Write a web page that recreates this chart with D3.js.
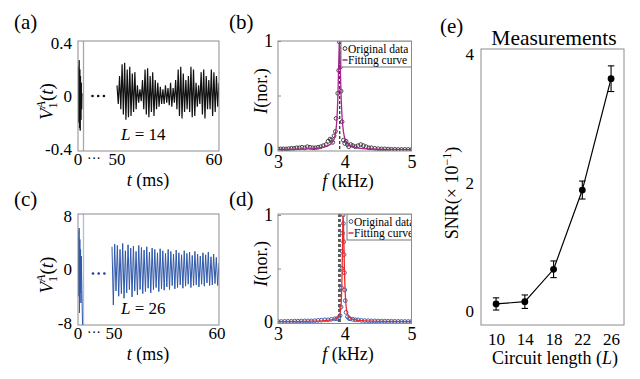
<!DOCTYPE html>
<html><head><meta charset="utf-8">
<script src="https://cdn.jsdelivr.net/npm/d3@7"></script>
<style>
body{margin:0;background:#fff;}
svg{display:block;}
svg text{font-family:'Liberation Serif','DejaVu Serif',serif !important;}
</style>
</head><body>
<svg id="chart" width="640" height="379"></svg>
<script>
// ---------------- DATA ----------------
// (a) L = 14 waveform: early burst (t in ms) and 50-60 ms segment (half-cycle extremes)
const aEarlyT = [0, 0.04, 0.08, 0.12, 0.16, 0.2, 0.24, 0.28, 0.32, 0.36, 0.4, 0.44];
const aEarlyV = [0, 0.22, -0.2, 0.27, -0.24, 0.2, -0.26, 0.15, -0.18, 0.1, -0.1, 0.02];
const aLateStart = 50, aLateStep = 0.125;
const aLateV = [
  0.08,-0.06,0.15,-0.10,0.24,-0.14,0.25,-0.18,
  0.20,-0.16,0.22,-0.15,0.17,-0.12,0.18,-0.10,
  0.08,-0.05,0.05,-0.04,0.12,-0.10,0.20,-0.14,
  0.21,-0.16,0.15,-0.12,0.18,-0.15,0.12,-0.10,
  0.10,-0.08,0.07,-0.06,0.05,-0.06,0.08,-0.05,
  0.06,-0.07,0.10,-0.08,0.06,-0.05,0.12,-0.10,
  0.20,-0.15,0.22,-0.17,0.17,-0.12,0.12,-0.10,
  0.15,-0.12,0.22,-0.16,0.20,-0.15,0.10,-0.08,
  0.08,-0.06,0.18,-0.14,0.20,-0.17,0.15,-0.10,
  0.12,-0.10,0.20,-0.15,0.18,-0.12,0.15,-0.08, 0.10];

// (c) L = 26 waveform
const cEarlyT = [0, 0.04, 0.08, 0.12, 0.16, 0.2, 0.24, 0.28, 0.32, 0.36, 0.42, 0.5];
const cEarlyV = [0, 5.8, -4.0, 6.2, -6.5, 4.5, -3.5, 3.0, -5.0, 2.0, -3.0, -8.6];
const cLateStart = 50, cLateStep = 0.125;
const cLateV = [
  3.4,-5.3,3.8,-3.2,3.6,-4.0,3.0,-3.6,
  3.9,-4.3,2.8,-3.5,3.7,-3.0,3.2,-4.1,
  3.5,-3.2,2.7,-3.8,3.6,-3.0,3.3,-3.6,
  2.9,-3.3,3.4,-2.8,2.6,-3.5,3.2,-3.0,
  3.0,-2.7,2.5,-3.3,3.1,-2.9,2.8,-3.1,
  2.4,-2.6,3.0,-3.0,2.7,-2.4,2.3,-2.9,
  2.9,-2.7,2.5,-2.3,2.2,-2.8,2.8,-2.5,
  2.4,-2.2,2.6,-2.7,2.1,-2.4,2.7,-2.3,
  2.3,-2.6,2.0,-2.2,2.5,-2.5,2.2,-2.0,
  2.6,-2.4,1.9,-2.3,2.3,-2.1,1.8,-2.4, 1.0];

// (b) spectrum L = 14
const bF = [3.00,3.04,3.08,3.12,3.16,3.20,3.24,3.28,3.32,3.36,3.40,3.44,3.48,3.52,3.56,3.60,3.64,3.68,3.72,3.75,3.78,3.80,3.82,3.84,3.86,3.87,3.895,3.91,3.92,3.935,3.945,3.96,3.98,4.00,4.02,4.04,4.06,4.09,4.12,4.16,4.20,4.24,4.28,4.32,4.36,4.40,4.45,4.50,4.55,4.60,4.65,4.70,4.75,4.80,4.85,4.90,4.95,5.00];
const bI = [0.010,0.010,0.010,0.010,0.012,0.015,0.015,0.020,0.020,0.025,0.020,0.030,0.025,0.020,0.020,0.025,0.030,0.040,0.050,0.080,0.100,0.090,0.070,0.130,0.170,0.290,0.520,0.730,0.990,0.760,0.540,0.260,0.090,0.060,0.080,0.050,0.030,0.050,0.040,0.030,0.040,0.050,0.040,0.030,0.020,0.020,0.015,0.012,0.010,0.010,0.008,0.006,0.006,0.005,0.005,0.005,0.005,0.005];
const bFitF = [3.0,3.3,3.5,3.6,3.7,3.75,3.8,3.84,3.86,3.88,3.895,3.905,3.915,3.92,3.925,3.935,3.945,3.96,3.98,4.0,4.05,4.1,4.2,4.4,4.7,5.0];
const bFitI = [0.005,0.008,0.012,0.017,0.028,0.04,0.06,0.10,0.15,0.26,0.45,0.68,0.92,1.0,0.93,0.72,0.50,0.30,0.17,0.11,0.055,0.035,0.018,0.009,0.005,0.003];
const bRef = [3.925];

// (d) spectrum L = 26
const dF = [3.00,3.05,3.10,3.15,3.20,3.25,3.30,3.35,3.40,3.45,3.50,3.55,3.60,3.65,3.70,3.75,3.80,3.85,3.88,3.91,3.93,3.945,3.952,3.958,3.962,3.967,3.975,3.98,3.985,3.99,3.995,4.00,4.008,4.02,4.04,4.06,4.08,4.12,4.16,4.20,4.25,4.30,4.35,4.40,4.45,4.50,4.55,4.60,4.65,4.70,4.75,4.80,4.85,4.90,4.95,5.00];
const dI = [0.005,0.005,0.006,0.006,0.007,0.008,0.008,0.009,0.010,0.010,0.010,0.012,0.015,0.017,0.020,0.020,0.025,0.030,0.030,0.040,0.060,0.140,0.320,0.500,0.660,0.830,1.000,0.920,0.750,0.630,0.460,0.300,0.200,0.090,0.050,0.035,0.030,0.025,0.020,0.020,0.015,0.013,0.012,0.010,0.010,0.009,0.008,0.008,0.007,0.007,0.006,0.006,0.005,0.005,0.005,0.005];
const dFitF = [3.0,3.5,3.7,3.8,3.88,3.92,3.94,3.95,3.96,3.967,3.972,3.975,3.98,3.987,3.995,4.005,4.02,4.04,4.07,4.12,4.3,4.6,5.0];
const dFitI = [0.004,0.008,0.013,0.02,0.035,0.06,0.12,0.22,0.45,0.75,0.95,1.0,0.93,0.75,0.50,0.30,0.15,0.08,0.045,0.025,0.01,0.006,0.004];
const dRef = [3.912, 3.93];

// (e) SNR measurements
const eL = [10, 14, 18, 22, 26];
const eSNR = [0.11, 0.145, 0.65, 1.885, 3.62];
const eErr = [0.095, 0.105, 0.13, 0.14, 0.20];
const eXTicks = [10, 14, 18, 22, 26];
const eYTicks = [0, 2, 4];

// ---------------- DRAW ----------------
const svg = d3.select("#chart");
const FRAME = "#8c8c8c";
const SERIF = "'Liberation Serif','DejaVu Serif',serif";

function frame(g, x0, x1, y0, y1) {
  g.append("rect").attr("x", x0).attr("y", y0).attr("width", x1 - x0).attr("height", y1 - y0)
    .attr("fill", "none").attr("stroke", FRAME).attr("stroke-width", 1);
}
function clip(id, x0, x1, y0, y1) {
  svg.append("clipPath").attr("id", id).append("rect")
    .attr("x", x0).attr("y", y0).attr("width", x1 - x0).attr("height", y1 - y0);
  return "url(#" + id + ")";
}
function styleAxis(g, size) {
  g.attr("font-family", SERIF);
  g.select(".domain").remove();
  g.selectAll(".tick line").attr("stroke", FRAME);
  g.selectAll(".tick text").attr("font-size", size).attr("fill", "#000");
}
function panelLabel(txt, x, y) {
  svg.append("text").attr("x", x).attr("y", y).attr("font-size", 21).text(txt);
}

// ---- waveform panels (a) and (c) ----
function wavePanel(o) {
  const g = svg.append("g");
  const y = d3.scaleLinear().domain(o.yDom).range([o.y1, o.y0]);
  const xe = d3.scaleLinear().domain([0, 0.6]).range([o.x0, o.x0 + 5.5]);
  const xl = d3.scaleLinear().domain([50, 60]).range([o.lateX, o.x1]);
  const cp = clip(o.id, o.x0, o.x1, o.y0, o.y1);
  g.append("line").attr("x1", xe(0.6)).attr("x2", xe(0.6)).attr("y1", o.y0).attr("y2", o.y1)
    .attr("stroke", o.lightColor).attr("stroke-width", 1.3);
  const early = o.earlyT.map((t, i) => [t, o.earlyV[i]]);
  g.append("path").datum(early).attr("clip-path", cp)
    .attr("d", d3.line().x(d => xe(d[0])).y(d => y(d[1])))
    .attr("fill", "none").attr("stroke", o.color).attr("stroke-width", 1);
  const late = o.lateV.map((v, i) => [o.lateStart + i * o.lateStep, v]);
  g.append("path").datum(late).attr("clip-path", cp)
    .attr("d", d3.line().x(d => xl(d[0])).y(d => y(d[1])))
    .attr("fill", "none").attr("stroke", o.color).attr("stroke-width", o.lw);
  [0, 1, 2].forEach(k => g.append("circle").attr("cx", o.dotX + k * 5.7).attr("cy", y(0) + o.dotDy)
    .attr("r", 1.3).attr("fill", o.dotColor));
  frame(g, o.x0, o.x1, o.y0, o.y1);
  const ya = g.append("g").attr("transform", `translate(${o.x0},0)`)
    .call(d3.axisLeft(y).tickValues(o.yTicks).tickFormat(o.yFmt).tickSize(0).tickPadding(6));
  styleAxis(ya, 17);
  const ty = o.y1 + 14;
  const xt = g.append("g").attr("font-size", 17).attr("text-anchor", "middle");
  xt.append("text").attr("x", xe(0)).attr("y", ty).text("0");
  xt.append("text").attr("x", o.x0 + 16).attr("y", ty - 2).attr("font-size", 14).text("···");
  xt.append("text").attr("x", xl(50) + o.lbl50dx).attr("y", ty).text("50");
  xt.append("text").attr("x", xl(60) + o.lbl60dx).attr("y", ty).text("60");
  const xtitle = g.append("text").attr("x", 148).attr("y", o.y1 + 35).attr("font-size", 18).attr("text-anchor", "middle");
  xtitle.append("tspan").attr("font-style", "italic").text("t");
  xtitle.append("tspan").text(" (ms)");
  const yt = g.append("text").attr("transform", `translate(${o.yLabX},${(o.y0 + o.y1) / 2 + 24}) rotate(-90)`)
    .attr("font-size", 19);
  yt.append("tspan").attr("font-style", "italic").text("V");
  yt.append("tspan").attr("font-size", 12).attr("dy", 4).text("1");
  yt.append("tspan").attr("font-size", 12).attr("font-style", "italic").attr("dx", -6).attr("dy", -12).text("A");
  yt.append("tspan").attr("dy", 8).text("(");
  yt.append("tspan").attr("font-style", "italic").text("t");
  yt.append("tspan").text(")");
  const lt = g.append("text").attr("x", 121).attr("y", o.lY).attr("font-size", 17);
  lt.append("tspan").attr("font-style", "italic").text("L");
  lt.append("tspan").text(" = " + o.L);
}

wavePanel({
  id: "ca", x0: 78, x1: 219, y0: 41, y1: 151, yDom: [-0.415, 0.415], lateX: 117, lw: 1.2,
  earlyT: aEarlyT, earlyV: aEarlyV, lateV: aLateV, lateStart: aLateStart, lateStep: aLateStep,
  color: "#111", lightColor: "#a8a8a8", dotColor: "#111", dotX: 92.5, dotDy: 0,
  yTicks: [-0.4, 0, 0.4], yFmt: d => d === 0 ? "0" : d3.format(".1f")(d).replace("−", "-"),
  lbl50dx: 0, lbl60dx: -5, yLabX: 53, L: 14, lY: 140
});
wavePanel({
  id: "cc", x0: 78, x1: 219, y0: 214, y1: 325, yDom: [-8.3, 8.3], lateX: 112, lw: 1,
  earlyT: cEarlyT, earlyV: cEarlyV, lateV: cLateV, lateStart: cLateStart, lateStep: cLateStep,
  color: "#2f58aa", lightColor: "#a9bce2", dotColor: "#1f3c9e", dotX: 93, dotDy: 4,
  yTicks: [-8, 0, 8], yFmt: d => String(d).replace("−", "-"),
  lbl50dx: 2, lbl60dx: -2, yLabX: 53, L: 26, lY: 314
});

// ---- spectrum panels (b) and (d) ----
function specPanel(o) {
  const g = svg.append("g");
  const x = d3.scaleLinear().domain([3, 5]).range([o.x0, o.x1]);
  const y = d3.scaleLinear().domain([0, 1]).range([o.yZero, o.yOne]);
  const cp = clip(o.id, o.x0, o.x1, o.y0, o.y1);
  const inner = g.append("g").attr("clip-path", cp);
  o.ref.forEach(f => inner.append("line").attr("x1", x(f)).attr("x2", x(f)).attr("y1", o.y0).attr("y2", o.y1)
    .attr("stroke", "#111").attr("stroke-width", 1.1).attr("stroke-dasharray", "3,2"));
  inner.selectAll("circle.pt").data(o.F.map((f, i) => [f, o.I[i]])).join("circle").attr("class", "pt")
    .attr("cx", d => x(d[0])).attr("cy", d => y(d[1])).attr("r", 1.9)
    .attr("fill", "none").attr("stroke", o.ptColor).attr("stroke-width", 0.9);
  inner.append("path").datum(o.fitF.map((f, i) => [f, o.fitI[i]]))
    .attr("d", d3.line().curve(d3.curveMonotoneX).x(d => x(d[0])).y(d => y(d[1])))
    .attr("fill", "none").attr("stroke", o.fitColor).attr("stroke-width", 1.3);
  const lg = inner.append("g");
  lg.append("rect").attr("x", o.legX).attr("y", o.y0).attr("width", o.x1 - o.legX + 4).attr("height", 26)
    .attr("fill", "#fff").attr("stroke", "#555").attr("stroke-width", 0.8);
  lg.append("circle").attr("cx", o.legX + 4).attr("cy", o.y0 + 7.5).attr("r", 1.9)
    .attr("fill", "none").attr("stroke", o.ptColor).attr("stroke-width", 1);
  lg.append("text").attr("x", o.legX + 7).attr("y", o.y0 + 11.5).attr("font-size", 11.5).text("Original data");
  lg.append("line").attr("x1", o.legX + 1.5).attr("x2", o.legX + 6.5).attr("y1", o.y0 + 19).attr("y2", o.y0 + 19)
    .attr("stroke", o.fitColor).attr("stroke-width", 1.3);
  lg.append("text").attr("x", o.legX + 7).attr("y", o.y0 + 23).attr("font-size", 11.5).text("Fitting curve");
  frame(g, o.x0, o.x1, o.y0, o.y1);
  const ya = g.append("g").attr("transform", `translate(${o.x0},0)`)
    .call(d3.axisLeft(y).tickValues([0, 0.5, 1]).tickFormat(d => d === 0.5 ? "" : String(d)).tickSize(-3).tickPadding(5));
  styleAxis(ya, 18);
  const xa = g.append("g").attr("transform", `translate(0,${o.y1})`)
    .call(d3.axisBottom(x).tickValues([3, 4, 5]).tickFormat(d3.format("d")).tickSize(0).tickPadding(4));
  styleAxis(xa, 18);
  const xtitle = g.append("text").attr("x", 348).attr("y", o.y1 + 36).attr("font-size", 18).attr("text-anchor", "middle");
  xtitle.append("tspan").attr("font-style", "italic").text("f");
  xtitle.append("tspan").text(" (kHz)");
  const yt = g.append("text").attr("transform", `translate(${o.x0 - 11},${(o.y0 + o.y1) / 2 - 5}) rotate(-90)`)
    .attr("font-size", 18).attr("text-anchor", "middle");
  yt.append("tspan").attr("font-style", "italic").text("I");
  yt.append("tspan").text("(nor.)");
}

specPanel({
  id: "cb", x0: 278, x1: 411.5, y0: 41, y1: 151, yZero: 150, yOne: 41,
  F: bF, I: bI, fitF: bFitF, fitI: bFitI, ref: bRef,
  ptColor: "#333", fitColor: "#a8238f", legX: 341
});
specPanel({
  id: "cd", x0: 278, x1: 411.5, y0: 214, y1: 323.5, yZero: 322, yOne: 215,
  F: dF, I: dI, fitF: dFitF, fitI: dFitI, ref: dRef,
  ptColor: "#2f58aa", fitColor: "#f02828", legX: 347
});

// ---- panel (e) ----
(function () {
  const g = svg.append("g");
  const x0 = 481, x1 = 624, y0 = 49, y1 = 325;
  const x = d3.scaleLinear().domain([7.9, 27.8]).range([x0, x1]);
  const y = d3.scaleLinear().domain([0, 4]).range([311, 54.3]);
  frame(g, x0, x1, y0, y1);
  const pts = eL.map((l, i) => ({ l, v: eSNR[i], e: eErr[i] }));
  g.append("path").datum(pts).attr("d", d3.line().x(d => x(d.l)).y(d => y(d.v)))
    .attr("fill", "none").attr("stroke", "#000").attr("stroke-width", 1.2);
  const eb = g.selectAll("g.eb").data(pts).join("g").attr("class", "eb");
  eb.append("line").attr("x1", d => x(d.l)).attr("x2", d => x(d.l))
    .attr("y1", d => y(d.v - d.e)).attr("y2", d => y(d.v + d.e)).attr("stroke", "#000").attr("stroke-width", 1.1);
  eb.append("line").attr("x1", d => x(d.l) - 3.2).attr("x2", d => x(d.l) + 3.2)
    .attr("y1", d => y(d.v - d.e)).attr("y2", d => y(d.v - d.e)).attr("stroke", "#000").attr("stroke-width", 1.1);
  eb.append("line").attr("x1", d => x(d.l) - 3.2).attr("x2", d => x(d.l) + 3.2)
    .attr("y1", d => y(d.v + d.e)).attr("y2", d => y(d.v + d.e)).attr("stroke", "#000").attr("stroke-width", 1.1);
  eb.append("circle").attr("cx", d => x(d.l)).attr("cy", d => y(d.v)).attr("r", 3.4).attr("fill", "#000");
  const ya = g.append("g").attr("transform", `translate(${x0},0)`)
    .call(d3.axisLeft(y).tickValues(eYTicks).tickFormat(d3.format("d")).tickSize(0).tickPadding(7));
  styleAxis(ya, 17);
  const xa = g.append("g").attr("transform", `translate(0,${y1})`)
    .call(d3.axisBottom(x).tickValues(eXTicks).tickFormat(d3.format("d")).tickSize(0).tickPadding(8));
  styleAxis(xa, 17);
  g.append("text").attr("x", 554).attr("y", 45).attr("font-size", 21.5).attr("text-anchor", "middle").text("Measurements");
  const xt = g.append("text").attr("x", 555).attr("y", 364).attr("font-size", 18).attr("text-anchor", "middle");
  xt.append("tspan").text("Circuit length (");
  xt.append("tspan").attr("font-style", "italic").text("L");
  xt.append("tspan").text(")");
  const yt = g.append("text").attr("transform", `translate(458,193) rotate(-90)`)
    .attr("font-size", 18).attr("text-anchor", "middle");
  yt.append("tspan").text("SNR(× 10");
  yt.append("tspan").attr("font-size", 12).attr("dy", -7).text("−1");
  yt.append("tspan").attr("dy", 7).text(")");
})();

panelLabel("(a)", 14, 29);
panelLabel("(b)", 229, 29);
panelLabel("(c)", 14, 206);
panelLabel("(d)", 229, 206);
panelLabel("(e)", 440, 33);
svg.selectAll("text").attr("font-family", SERIF);
</script>
</body></html>
